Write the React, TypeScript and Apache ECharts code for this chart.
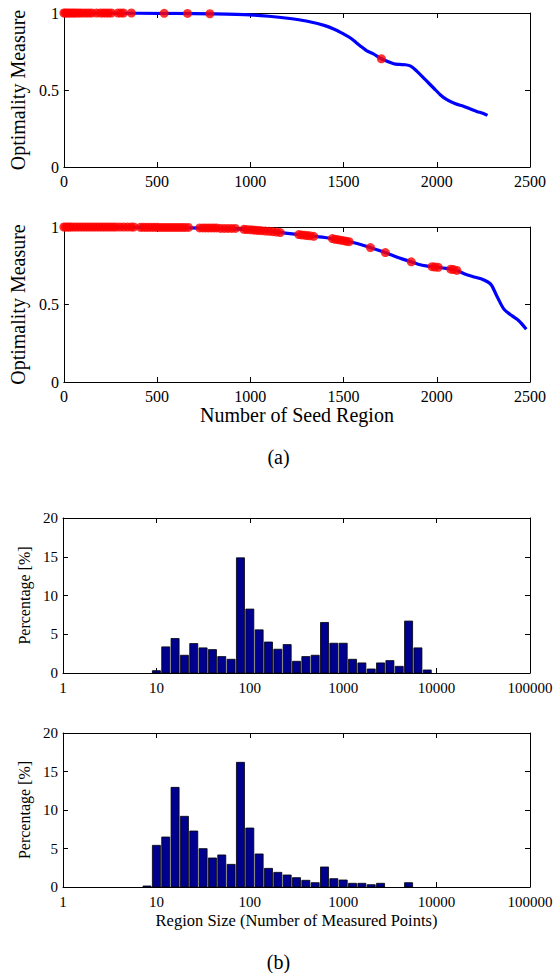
import React, { useEffect, useRef } from "react";
import * as echarts from "echarts";

// ---- Data: panel (a) top ----
const lineAX = [0, 200, 400, 600, 800, 1000, 1100, 1200, 1300, 1400, 1450, 1500, 1537, 1570, 1600, 1625, 1660, 1703, 1769, 1800, 1831, 1860, 1894, 1940, 1983, 2020, 2054, 2100, 2143, 2180, 2215, 2250, 2272];
const lineAY = [1.0, 1.0, 0.999, 0.997, 0.994, 0.988, 0.979, 0.966, 0.948, 0.918, 0.895, 0.864, 0.838, 0.806, 0.777, 0.754, 0.735, 0.703, 0.671, 0.666, 0.664, 0.655, 0.621, 0.565, 0.513, 0.468, 0.437, 0.41, 0.394, 0.377, 0.361, 0.347, 0.335];
const dotsAX = [0, 8, 16, 25, 35, 45, 55, 65, 78, 90, 105, 120, 135, 150, 175, 195, 210, 225, 240, 255, 290, 305, 320, 362, 538, 663, 783, 1703];
const dotsAY = [1, 1, 1, 1, 1, 1, 1, 1, 1, 1, 1, 1, 1, 1, 1, 1, 1, 1, 1, 1, 1, 1, 1, 1, 0.998, 0.997, 0.995, 0.703];

// ---- Data: panel (a) bottom ----
const lineBX = [0, 300, 600, 900, 1000, 1100, 1200, 1300, 1400, 1500, 1550, 1600, 1650, 1700, 1750, 1800, 1850, 1900, 1950, 2000, 2050, 2100, 2150, 2200, 2250, 2290, 2320, 2360, 2400, 2440, 2480];
const lineBY = [1.0, 0.999, 0.996, 0.989, 0.982, 0.972, 0.959, 0.946, 0.932, 0.912, 0.9, 0.884, 0.865, 0.845, 0.823, 0.8, 0.78, 0.76, 0.748, 0.741, 0.733, 0.722, 0.697, 0.678, 0.66, 0.63, 0.56, 0.47, 0.43, 0.395, 0.34];
const dotsBX = [0, 10, 20, 30, 40, 55, 70, 85, 100, 115, 130, 145, 160, 175, 190, 205, 220, 235, 250, 265, 280, 300, 320, 340, 360, 375,
  410, 425, 440, 455, 470, 485, 500, 515, 530, 545, 560, 575, 590, 605, 620, 635, 650, 668,
  728, 745, 760, 775, 790, 805, 820, 840, 860, 880, 900, 920,
  965, 980, 1000, 1015, 1030, 1045, 1060, 1080, 1100, 1120, 1140, 1160,
  1260, 1275, 1290, 1305, 1320, 1340,
  1440, 1455, 1470, 1485, 1500, 1515, 1530,
  1644, 1724, 1863, 1975, 1990, 2008, 2075, 2090, 2108];
const dotsBY = [1, 1, 1, 1, 1, 1, 1, 1, 1, 1, 1, 1, 1, 1, 1, 1, 1, 1, 1, 1, 1, 1, 1, 1, 1, 1,
  0.998, 0.998, 0.998, 0.998, 0.998, 0.998, 0.998, 0.997, 0.997, 0.997, 0.997, 0.997, 0.997, 0.997, 0.997, 0.997, 0.997, 0.997,
  0.994, 0.994, 0.994, 0.994, 0.994, 0.994, 0.994, 0.991, 0.991, 0.991, 0.991, 0.991,
  0.985, 0.984, 0.982, 0.981, 0.979, 0.978, 0.976, 0.974, 0.972, 0.97, 0.967, 0.964,
  0.951, 0.949, 0.947, 0.945, 0.943, 0.94,
  0.925, 0.921, 0.918, 0.915, 0.912, 0.908, 0.905,
  0.867, 0.835, 0.775, 0.744, 0.742, 0.74, 0.728, 0.725, 0.72];

// ---- Data: panel (b) histograms (bin centres as log10 of region size) ----
const hist1Bins = [1.0, 1.1, 1.2, 1.3, 1.4, 1.5, 1.6, 1.7, 1.8, 1.9, 2.0, 2.1, 2.2, 2.3, 2.4, 2.5, 2.6, 2.7, 2.8, 2.9, 3.0, 3.1, 3.2, 3.3, 3.4, 3.5, 3.6, 3.7, 3.8, 3.9];
const hist1Vals = [0.3, 3.37, 4.45, 2.29, 3.8, 3.24, 3.02, 2.12, 1.77, 14.86, 8.25, 5.57, 4.0, 3.07, 3.67, 1.51, 2.12, 2.29, 6.52, 3.84, 3.84, 1.77, 1.3, 0.52, 1.3, 1.6, 0.86, 6.7, 3.24, 0.39];
const hist2Bins = [0.9, 1.0, 1.1, 1.2, 1.3, 1.4, 1.5, 1.6, 1.7, 1.8, 1.9, 2.0, 2.1, 2.2, 2.3, 2.4, 2.5, 2.6, 2.7, 2.8, 2.9, 3.0, 3.1, 3.2, 3.3, 3.4, 3.7];
const hist2Vals = [0.13, 5.41, 6.49, 12.94, 9.18, 7.27, 4.98, 3.77, 4.16, 2.94, 16.19, 7.66, 4.29, 2.42, 1.9, 1.56, 1.21, 0.87, 0.56, 2.6, 1.08, 0.91, 0.48, 0.48, 0.3, 0.48, 0.56];

const lineTicks = [0, 500, 1000, 1500, 2000, 2500];
const sizeTickLabels = ["1", "10", "100", "1000", "10000", "100000"];

const FONT = "Liberation Serif";
const BAR = "#00008f";
const HALF = 0.043;

const zip = (a: number[], b: number[]) => a.map((v, i) => [v, b[i]]);

export default function App() {
  const ref = useRef<HTMLDivElement>(null);
  useEffect(() => {
    if (!ref.current) return;
    const chart = echarts.init(ref.current, null, { renderer: "svg" });
    const grids = [
      { left: 63, top: 13, width: 467, height: 154 },
      { left: 63, top: 227, width: 467, height: 155 },
      { left: 63, top: 518, width: 467, height: 155 },
      { left: 63, top: 733, width: 467, height: 154 },
    ];
    const axLine = { show: true, onZero: false, lineStyle: { color: "#000", width: 1 } };
    const axTick = { show: true, inside: true, length: 5, lineStyle: { color: "#000", width: 1 } };
    const xAxes: any[] = [];
    const yAxes: any[] = [];
    grids.forEach((_, g) => {
      const isLine = g < 2;
      const fs = isLine ? 16 : 15;
      const baseX: any = isLine
        ? { type: "value", min: 0, max: 2500, interval: 500 }
        : { type: "value", min: 0, max: 5, interval: 1 };
      const baseY: any = isLine
        ? { type: "value", min: 0, max: 1, interval: 0.5 }
        : { type: "value", min: 0, max: 20, interval: 5 };
      const xLabel: any = {
        fontSize: fs, color: "#000", fontFamily: FONT, margin: isLine ? 6 : 7,
        formatter: isLine
          ? (v: number) => String(lineTicks[lineTicks.indexOf(v)] ?? v)
          : (v: number) => sizeTickLabels[Math.round(v)],
      };
      const bottom: any = {
        ...baseX, gridIndex: g, position: "bottom", axisLine: axLine, axisTick: axTick,
        axisLabel: xLabel, splitLine: { show: false },
      };
      if (g === 1) {
        bottom.name = "Number of Seed Region";
        bottom.nameLocation = "middle";
        bottom.nameGap = 23;
        bottom.nameTextStyle = { fontSize: 20, fontFamily: FONT, color: "#000" };
      }
      if (g === 3) {
        bottom.name = "Region Size (Number of Measured Points)";
        bottom.nameLocation = "middle";
        bottom.nameGap = 25;
        bottom.nameTextStyle = { fontSize: 16.5, fontFamily: FONT, color: "#000" };
      }
      xAxes.push(bottom);
      xAxes.push({
        ...baseX, gridIndex: g, position: "top", axisLine: axLine, axisTick: axTick,
        axisLabel: { show: false }, splitLine: { show: false },
      });
      yAxes.push({
        ...baseY, gridIndex: g, position: "left", axisLine: axLine, axisTick: axTick,
        axisLabel: { fontSize: fs, color: "#000", fontFamily: FONT, margin: 5 },
        splitLine: { show: false },
        name: isLine ? "Optimality Measure" : "Percentage [%]",
        nameLocation: "middle",
        nameGap: isLine ? 32 : 29,
        nameTextStyle: { fontSize: isLine ? 20 : 16, fontFamily: FONT, color: "#000" },
      });
      yAxes.push({
        ...baseY, gridIndex: g, position: "right", axisLine: axLine, axisTick: axTick,
        axisLabel: { show: false }, splitLine: { show: false },
      });
    });

    const renderBar = (params: any, api: any) => {
      const c = api.value(0);
      const v = api.value(1);
      const tl = api.coord([c - HALF, v]);
      const br = api.coord([c + HALF, 0]);
      return {
        type: "rect",
        shape: { x: tl[0], y: tl[1], width: br[0] - tl[0], height: br[1] - tl[1] },
        style: { fill: BAR, stroke: "#000", lineWidth: 0.8 },
      };
    };

    chart.setOption({
      animation: false,
      backgroundColor: "#fff",
      title: [
        { text: "(a)", left: "center", top: 447, padding: 0, textStyle: { fontSize: 20, fontFamily: FONT, fontWeight: "normal", color: "#000" } },
        { text: "(b)", left: "center", top: 952, padding: 0, textStyle: { fontSize: 20, fontFamily: FONT, fontWeight: "normal", color: "#000" } },
      ],
      grid: grids,
      xAxis: xAxes,
      yAxis: yAxes,
      series: [
        { type: "line", xAxisIndex: 0, yAxisIndex: 0, data: zip(lineAX, lineAY), showSymbol: false, smooth: 0.3, lineStyle: { color: "#0000ff", width: 3.2 }, z: 2 },
        { type: "scatter", xAxisIndex: 0, yAxisIndex: 0, data: zip(dotsAX, dotsAY), symbolSize: 9, itemStyle: { color: "#ff0000" }, clip: false, z: 3 },
        { type: "line", xAxisIndex: 2, yAxisIndex: 2, data: zip(lineBX, lineBY), showSymbol: false, smooth: 0.3, lineStyle: { color: "#0000ff", width: 3.2 }, z: 2 },
        { type: "scatter", xAxisIndex: 2, yAxisIndex: 2, data: zip(dotsBX, dotsBY), symbolSize: 9, itemStyle: { color: "#ff0000" }, clip: false, z: 3 },
        { type: "custom", xAxisIndex: 4, yAxisIndex: 4, data: zip(hist1Bins, hist1Vals), renderItem: renderBar, encode: { x: 0, y: 1 }, clip: true },
        { type: "custom", xAxisIndex: 6, yAxisIndex: 6, data: zip(hist2Bins, hist2Vals), renderItem: renderBar, encode: { x: 0, y: 1 }, clip: true },
      ],
    });
    return () => chart.dispose();
  }, []);
  return <div ref={ref} style={{ position: "absolute", left: 0, top: 0, width: 557, height: 973 }} />;
}
